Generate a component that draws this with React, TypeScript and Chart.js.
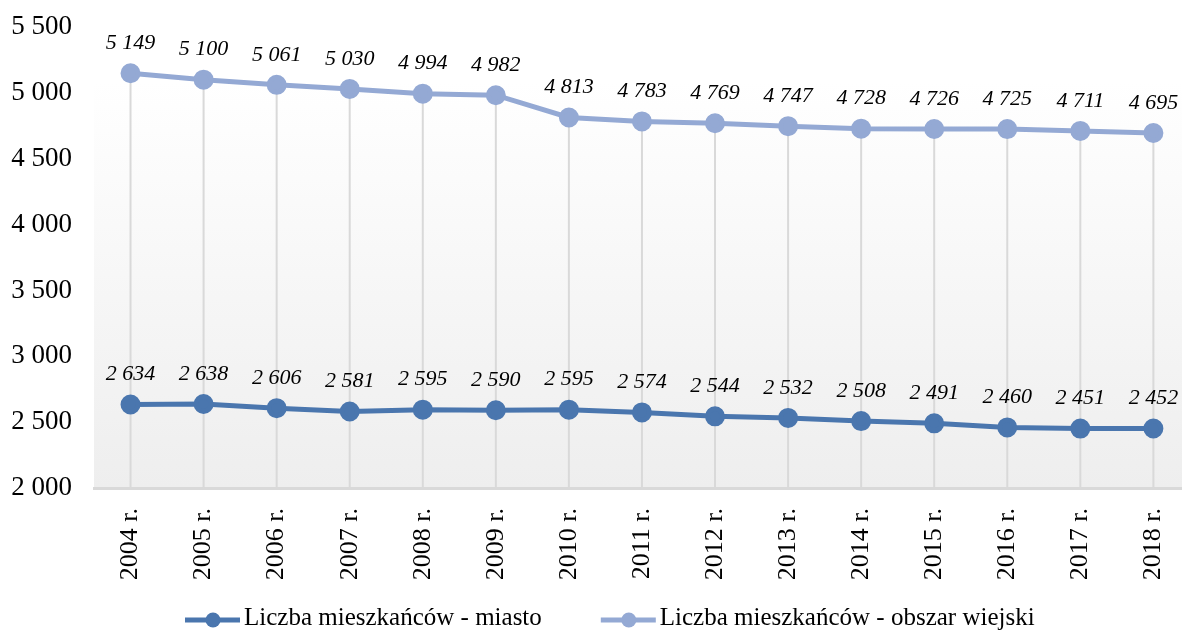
import React, { useEffect, useRef } from "react";
import { Chart, registerables } from "chart.js";

Chart.register(...registerables);

const categories = ["2004 r.", "2005 r.", "2006 r.", "2007 r.", "2008 r.", "2009 r.", "2010 r.", "2011 r.", "2012 r.", "2013 r.", "2014 r.", "2015 r.", "2016 r.", "2017 r.", "2018 r."];
const miasto = [2634, 2638, 2606, 2581, 2595, 2590, 2595, 2574, 2544, 2532, 2508, 2491, 2460, 2451, 2452];
const obszarWiejski = [5149, 5100, 5061, 5030, 4994, 4982, 4813, 4783, 4769, 4747, 4728, 4726, 4725, 4711, 4695];
const seriesNames = ["Liczba mieszkańców - miasto", "Liczba mieszkańców - obszar wiejski"];
const yMin = 2000;
const yMax = 5500;
const yStep = 500;

const colorDark = "#4a76ae";
const colorLight = "#94a9d4";
const FONT = "'Liberation Serif', 'Times New Roman', serif";

const fmt = (n: number) => String(n).replace(/\B(?=(\d{3})+(?!\d))/g, " ");

const bgPlugin = {
  id: "bgGradient",
  beforeDraw(chart: any) {
    const { ctx, chartArea: a } = chart;
    const startY = a.top + (a.bottom - a.top) * 0.12;
    const g = ctx.createLinearGradient(0, startY, 0, a.bottom);
    g.addColorStop(0, "#ffffff");
    g.addColorStop(1, "#eeeeee");
    ctx.save();
    ctx.fillStyle = g;
    ctx.fillRect(a.left, startY, a.right - a.left, a.bottom - startY);
    ctx.restore();
  },
};

const dropLinesPlugin = {
  id: "dropLines",
  beforeDatasetsDraw(chart: any) {
    const { ctx, chartArea: a } = chart;
    const m0 = chart.getDatasetMeta(0).data;
    const m1 = chart.getDatasetMeta(1).data;
    ctx.save();
    ctx.strokeStyle = "#d9d9d9";
    ctx.lineWidth = 2;
    for (let i = 0; i < m0.length; i++) {
      const top = Math.min(m0[i].y, m1[i].y);
      ctx.beginPath();
      ctx.moveTo(m0[i].x, top);
      ctx.lineTo(m0[i].x, a.bottom);
      ctx.stroke();
    }
    ctx.restore();
  },
};

const labelsPlugin = {
  id: "dataLabels",
  afterDatasetsDraw(chart: any) {
    const { ctx } = chart;
    ctx.save();
    ctx.font = `italic 22px ${FONT}`;
    ctx.fillStyle = "#000000";
    ctx.textAlign = "center";
    ctx.textBaseline = "middle";
    chart.data.datasets.forEach((ds: any, di: number) => {
      const meta = chart.getDatasetMeta(di);
      meta.data.forEach((pt: any, i: number) => {
        ctx.fillText(fmt(ds.data[i]), pt.x, pt.y - 30);
      });
    });
    ctx.restore();
  },
};

const legendPlugin = {
  id: "customLegend",
  afterDraw(chart: any) {
    const { ctx, chartArea: a } = chart;
    const y = chart.height - 11;
    ctx.save();
    ctx.font = `25px ${FONT}`;
    ctx.textBaseline = "middle";
    let x = a.left + 91;
    chart.data.datasets.forEach((ds: any, di: number) => {
      ctx.strokeStyle = ds.borderColor;
      ctx.lineWidth = 5;
      ctx.beginPath();
      ctx.moveTo(x, y);
      ctx.lineTo(x + 55, y);
      ctx.stroke();
      ctx.fillStyle = ds.borderColor;
      ctx.beginPath();
      ctx.arc(x + 28, y, 7.5, 0, Math.PI * 2);
      ctx.fill();
      ctx.fillStyle = "#000000";
      const tx = x + 59;
      ctx.fillText(seriesNames[di], tx, y - 2);
      const w = ctx.measureText(seriesNames[di]).width;
      x = tx + w + 59;
    });
    ctx.restore();
  },
};

export default function App() {
  const ref = useRef<HTMLCanvasElement | null>(null);

  useEffect(() => {
    document.body.style.margin = "0";
    document.body.style.overflow = "hidden";
    const canvas = ref.current;
    if (!canvas) return;
    const chart = new Chart(canvas, {
      type: "line",
      data: {
        labels: categories,
        datasets: [
          {
            label: seriesNames[0],
            data: miasto,
            borderColor: colorDark,
            backgroundColor: colorDark,
            pointBackgroundColor: colorDark,
            pointBorderColor: colorDark,
            borderWidth: 5,
            pointRadius: 7.5,
            tension: 0,
          },
          {
            label: seriesNames[1],
            data: obszarWiejski,
            borderColor: colorLight,
            backgroundColor: colorLight,
            pointBackgroundColor: colorLight,
            pointBorderColor: colorLight,
            borderWidth: 5,
            pointRadius: 7.5,
            tension: 0,
          },
        ],
      },
      options: {
        responsive: false,
        animation: false,
        devicePixelRatio: 1,
        layout: { padding: { top: 27, right: 1, left: 0, bottom: 0 } },
        plugins: {
          legend: { display: false },
          tooltip: { enabled: false },
        },
        scales: {
          x: {
            type: "category",
            offset: true,
            grid: { display: false, drawTicks: false },
            border: { display: true, color: "#d9d9d9", width: 3 },
            ticks: {
              autoSkip: false,
              maxRotation: 90,
              minRotation: 90,
              padding: 20,
              color: "#000000",
              font: { family: FONT, size: 26 },
            },
            afterFit(scale: any) {
              scale.height = 143;
            },
          },
          y: {
            min: yMin,
            max: yMax,
            grid: { display: false, drawTicks: false },
            border: { display: false },
            ticks: {
              stepSize: yStep,
              padding: 22,
              color: "#000000",
              font: { family: FONT, size: 27 },
              callback: (v: any) => fmt(Number(v)),
            },
            afterFit(scale: any) {
              scale.width = 94;
              scale.paddingTop = 0;
              scale.paddingBottom = 0;
            },
          },
        },
      },
      plugins: [bgPlugin, dropLinesPlugin, labelsPlugin, legendPlugin],
    } as any);
    return () => chart.destroy();
  }, []);

  return (
    <div style={{ position: "fixed", left: 0, top: 0, width: 1205, height: 631, background: "#ffffff" }}>
      <canvas ref={ref} width={1205} height={631} style={{ display: "block" }} />
    </div>
  );
}
